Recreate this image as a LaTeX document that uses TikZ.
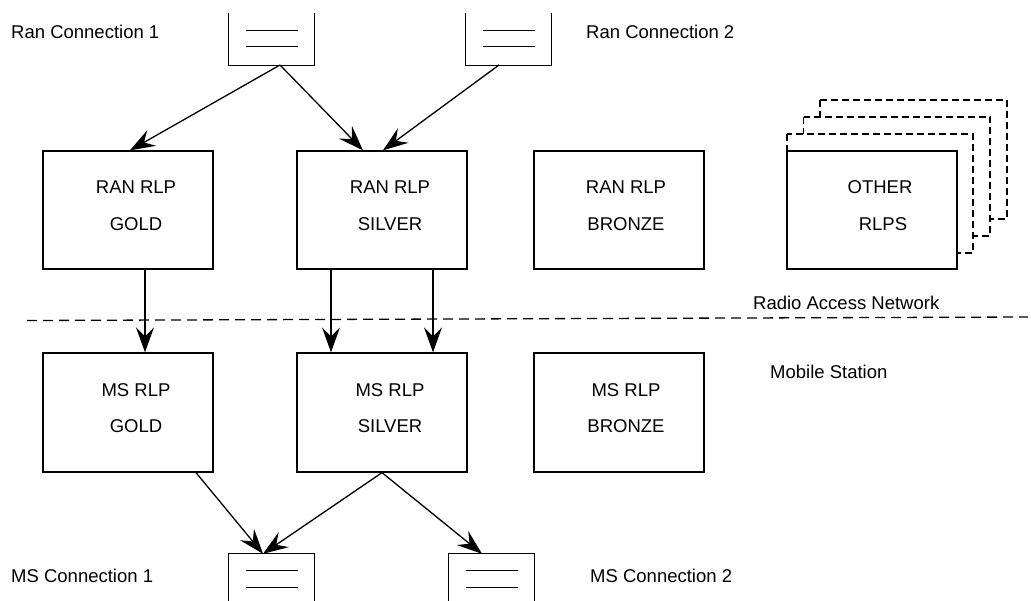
\documentclass[tikz,border=0pt]{standalone}
\usepackage{fontspec}
\setmainfont{Liberation Sans}
\usetikzlibrary{arrows.meta}
\tikzset{
  box/.style={draw, line width=1.3pt, fill=white, minimum width=170pt, minimum height=118pt, inner sep=0pt},
  qbox/.style={minimum width=85pt, minimum height=52pt, inner sep=0pt},
  txt/.style={inner sep=0pt, font=\fontsize{18.5}{22}\selectfont},
  conn/.style={line width=1.3pt, -{Stealth[length=25pt, width=18pt, inset=9pt]}},
  ln/.style={line width=1.3pt},
  dbox/.style={draw, dashed, dash pattern=on 7pt off 4pt, line width=1.3pt, fill=white},
  sep/.style={line width=1.3pt, dash pattern=on 10pt off 6pt}
}
\begin{document}
\begin{tikzpicture}[x=1pt,y=-1pt]
\useasboundingbox (0,0) rectangle (1031,601);

% top queues
\node[qbox] (q1) at (271.5,39) {};
\node[qbox] (q2) at (508.5,39) {};
\foreach \q in {q1,q2}{
  \draw[ln] (\q.north west) -- (\q.south west) -- (\q.south east) -- (\q.north east);
  \draw[ln] ([xshift=17pt,yshift=-18pt]\q.north west) -- ([xshift=-16pt,yshift=-18pt]\q.north east);
  \draw[ln] ([xshift=17pt,yshift=-34pt]\q.north west) -- ([xshift=-16pt,yshift=-34pt]\q.north east);
}
\coordinate (q1o) at (280,65);
\coordinate (q2o) at (499,65);

% bottom queues
\node[qbox] (m1) at (271.5,580) {};
\node[qbox] (m2) at (491.5,580) {};
\foreach \q in {m1,m2}{
  \draw[ln] (\q.south west |- 0,601) -- (\q.north west) -- (\q.north east) -- (\q.south east |- 0,601);
  \draw[ln] ([xshift=17pt,yshift=-17pt]\q.north west) -- ([xshift=-16pt,yshift=-17pt]\q.north east);
  \draw[ln] ([xshift=17pt,yshift=-34pt]\q.north west) -- ([xshift=-16pt,yshift=-34pt]\q.north east);
}

% other RLPs (stacked, dashed)
\draw[dbox] (820,100) rectangle (1007,219);
\draw[dbox] (803.5,117) rectangle (990,236);
\draw[dbox] (787,134) rectangle (973,253);

% RAN boxes
\node[box] (rg) at (128,210) {};
\node[box] (rs) at (382,210) {};
\node[box] (rb) at (619,210) {};
\node[box] (ro) at (872,210) {};
% MS boxes
\node[box, minimum height=119pt] (mg) at (128,412.5) {};
\node[box, minimum height=119pt] (ms) at (382,412.5) {};
\node[box, minimum height=119pt] (mb) at (619,412.5) {};

% box texts
\node[txt, anchor=base] (rg1) at ([xshift=8pt,yshift=16pt]rg.center) {RAN RLP};
\node[txt, anchor=base] (rg2) at ([xshift=8pt,yshift=-21pt]rg.center) {GOLD};
\node[txt, anchor=base] (rs1) at ([xshift=8pt,yshift=16pt]rs.center) {RAN RLP};
\node[txt, anchor=base] (rs2) at ([xshift=8pt,yshift=-21pt]rs.center) {SILVER};
\node[txt, anchor=base] (rb1) at ([xshift=7pt,yshift=16pt]rb.center) {RAN RLP};
\node[txt, anchor=base] (rb2) at ([xshift=7pt,yshift=-21pt]rb.center) {BRONZE};
\node[txt, anchor=base] (ro1) at ([xshift=8pt,yshift=16pt]ro.center) {OTHER};
\node[txt, anchor=base] (ro2) at ([xshift=11pt,yshift=-21pt]ro.center) {RLPS};
\node[txt, anchor=base] (mg1) at ([xshift=8pt,yshift=15.5pt]mg.center) {MS RLP};
\node[txt, anchor=base] (mg2) at ([xshift=8pt,yshift=-20.5pt]mg.center) {GOLD};
\node[txt, anchor=base] (ms1) at ([xshift=8pt,yshift=15.5pt]ms.center) {MS RLP};
\node[txt, anchor=base] (ms2) at ([xshift=8pt,yshift=-20.5pt]ms.center) {SILVER};
\node[txt, anchor=base] (mb1) at ([xshift=7pt,yshift=15.5pt]mb.center) {MS RLP};
\node[txt, anchor=base] (mb2) at ([xshift=7pt,yshift=-20.5pt]mb.center) {BRONZE};

% separator
\coordinate (sl) at (27,320.5);
\coordinate (sr) at (1028,317);
\draw[sep] (sl) -- (sr);

% labels
\node[txt, anchor=base west] (l1) at (11,39) {Ran Connection 1};
\node[txt, anchor=base west] (l2) at (586,39) {Ran Connection 2};
\node[txt, anchor=base west] (l3) at (753,310) {Radio Access Network};
\node[txt, anchor=base west] (l4) at (770,379) {Mobile Station};
\node[txt, anchor=base west] (l5) at (11,582) {MS Connection 1};
\node[txt, anchor=base west] (l6) at (590,582) {MS Connection 2};

% connectors
\draw[conn] (q1o) -- ([xshift=2pt]rg.north);
\draw[conn] (q1o) -- ([xshift=-19pt]rs.north);
\draw[conn] (q2o) -- ([xshift=1pt]rs.north);
\draw[conn] ([xshift=17pt]rg.south) -- ([xshift=17pt]mg.north);
\draw[conn] ([xshift=-51pt]rs.south) -- ([xshift=-51pt]ms.north);
\draw[conn] ([xshift=51pt]rs.south) -- ([xshift=51pt]ms.north);
\draw[conn] ([xshift=68pt]mg.south) -- ([xshift=-8.5pt]m1.north);
\draw[conn] (ms.south) -- ([xshift=-8.5pt]m1.north);
\draw[conn] (ms.south) -- ([xshift=-9.5pt]m2.north);
\end{tikzpicture}
\end{document}
